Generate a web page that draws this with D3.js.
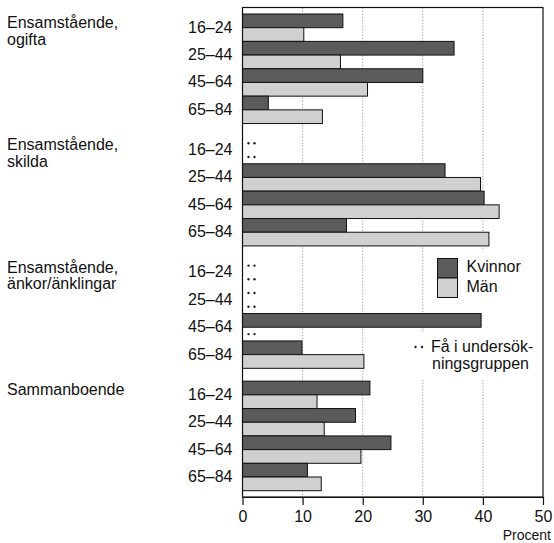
<!DOCTYPE html>
<html>
<head>
<meta charset="utf-8">
<script src="https://cdn.jsdelivr.net/npm/d3@7"></script>
<style>
  body { margin: 0; background: #fff; }
  text { font-family: "Liberation Sans", Arial, Helvetica, sans-serif; fill: #111; }
</style>
</head>
<body>
<div id="chart"></div>
<script>
var svgWidth = 554;
var svgHeight = 543;

// Data (percent)
var groups = ["ogifta", "skilda", "ankor", "sammanboende"];
var groupLabels = [
  ["Ensamstående,", "ogifta"],
  ["Ensamstående,", "skilda"],
  ["Ensamstående,", "änkor/änklingar"],
  ["Sammanboende"]
];
var ages = ["16–24", "25–44", "45–64", "65–84"];
var sexes = ["Kvinnor", "Män"];
// null = "Få i undersökningsgruppen"
var kvinnor = [
  [16.7, 35.2, 30.0, 4.3],
  [null, 33.7, 40.2, 17.3],
  [null, null, 39.7, 9.9],
  [21.2, 18.8, 24.7, 10.8]
];
var man = [
  [10.2, 16.3, 20.8, 13.3],
  [null, 39.6, 42.7, 41.0],
  [null, null, null, 20.2],
  [12.4, 13.6, 19.7, 13.1]
];
var xTicks = [0, 10, 20, 30, 40, 50];

var colors = { "Kvinnor": "#5b5b5b", "Män": "#d0d0d0" };
var fontSize = "16px";

var plot = { left: 242.5, right: 543, top: 7.5, bottom: 497 };

var svg = d3.select("#chart")
  .append("svg")
  .attr("width", svgWidth)
  .attr("height", svgHeight);

// flatten into rows
var rows = [];
groups.forEach(function(g, gi) {
  ages.forEach(function(a, ai) {
    rows.push({ group: g, age: a, sex: "Kvinnor", value: kvinnor[gi][ai] });
    rows.push({ group: g, age: a, sex: "Män", value: man[gi][ai] });
  });
});

// scales
var x = d3.scaleLinear()
  .domain([0, 50])
  .range([plot.left, plot.right]);

var yGroup = d3.scaleBand()
  .domain(groups)
  .range([14, 490.7])
  .paddingInner(0.105)
  .paddingOuter(0);

var yAge = d3.scaleBand()
  .domain(ages)
  .range([0, yGroup.bandwidth()]);

var ySex = d3.scaleBand()
  .domain(sexes)
  .range([0, yAge.bandwidth()]);

function rowY(d) {
  return yGroup(d.group) + yAge(d.age) + ySex(d.sex);
}

// gridlines
svg.append("g")
  .selectAll("line")
  .data(xTicks.slice(1, -1))
  .join("line")
  .attr("x1", d => x(d))
  .attr("x2", d => x(d))
  .attr("y1", plot.top)
  .attr("y2", plot.bottom)
  .attr("stroke", "#9a9a9a")
  .attr("stroke-width", 0.8)
  .attr("stroke-dasharray", "1.5,1.5");

// white area behind the legend hides the grid
svg.append("rect")
  .attr("x", 430).attr("y", 250)
  .attr("width", 110).attr("height", 130)
  .attr("fill", "#fff");
svg.append("rect")
  .attr("x", 405).attr("y", 332)
  .attr("width", 135).attr("height", 48)
  .attr("fill", "#fff");

// bars
svg.append("g")
  .selectAll("rect")
  .data(rows.filter(d => d.value != null))
  .join("rect")
  .attr("x", x(0))
  .attr("y", d => rowY(d))
  .attr("width", d => x(d.value) - x(0))
  .attr("height", ySex.bandwidth())
  .attr("fill", d => colors[d.sex])
  .attr("stroke", "#111")
  .attr("stroke-width", 1);

// ".." for too few in the group
var missing = rows.filter(d => d.value == null);
svg.append("g")
  .selectAll("g")
  .data(missing)
  .join("g")
  .each(function(d) {
    var cy = rowY(d) + ySex.bandwidth() / 2;
    d3.select(this).selectAll("circle")
      .data([0, 1])
      .join("circle")
      .attr("cx", i => x(0) + 6 + i * 6)
      .attr("cy", cy)
      .attr("r", 1.2)
      .attr("fill", "#222");
  });

// frame
svg.append("rect")
  .attr("x", plot.left)
  .attr("y", plot.top)
  .attr("width", plot.right - plot.left)
  .attr("height", plot.bottom - plot.top)
  .attr("fill", "none")
  .attr("stroke", "#111")
  .attr("stroke-width", 1.2);

// x axis
var bottomAxis = d3.axisBottom(x)
  .tickValues(xTicks)
  .tickSize(8)
  .tickSizeOuter(0)
  .tickPadding(6);

var axisG = svg.append("g")
  .attr("transform", `translate(0, ${plot.bottom})`)
  .call(bottomAxis);
axisG.select(".domain").attr("stroke", "#111").attr("stroke-width", 1.2);
axisG.selectAll(".tick line").attr("stroke", "#111").attr("stroke-width", 1.2);
axisG.selectAll(".tick text")
  .attr("font-size", fontSize)
  .attr("font-family", "Liberation Sans, Arial, sans-serif")
  .attr("fill", "#111");

svg.append("text")
  .attr("x", 551)
  .attr("y", 539.8)
  .attr("text-anchor", "end")
  .attr("font-size", "14px")
  .text("Procent");

// age labels
var ageRows = [];
groups.forEach(function(g) {
  ages.forEach(function(a) { ageRows.push({ group: g, age: a }); });
});
svg.append("g")
  .selectAll("text")
  .data(ageRows)
  .join("text")
  .attr("x", 232.5)
  .attr("y", d => yGroup(d.group) + yAge(d.age) + ySex.bandwidth() + 5)
  .attr("text-anchor", "end")
  .attr("font-size", fontSize)
  .text(d => d.age);

// group labels
svg.append("g")
  .selectAll("text")
  .data(groups)
  .join("text")
  .attr("x", 7)
  .attr("y", d => yGroup(d) + 14)
  .attr("font-size", fontSize)
  .each(function(d, i) {
    d3.select(this).selectAll("tspan")
      .data(groupLabels[i])
      .join("tspan")
      .attr("x", 7)
      .attr("dy", (t, j) => j === 0 ? 0 : 16.5)
      .text(t => t);
  });

// legend
var legend = svg.append("g").attr("transform", "translate(437.5, 258.5)");
legend.selectAll("rect")
  .data(sexes)
  .join("rect")
  .attr("x", 0)
  .attr("y", (d, i) => i * 19.5)
  .attr("width", 20)
  .attr("height", 19.5)
  .attr("fill", d => colors[d])
  .attr("stroke", "#111")
  .attr("stroke-width", 1);
legend.selectAll("text")
  .data(sexes)
  .join("text")
  .attr("x", 29)
  .attr("y", (d, i) => 13.5 + i * 20)
  .attr("font-size", fontSize)
  .text(d => d);

var note = svg.append("g");
note.selectAll("circle")
  .data([0, 1])
  .join("circle")
  .attr("cx", i => 415.5 + i * 6.5)
  .attr("cy", 347)
  .attr("r", 1.2)
  .attr("fill", "#222");
note.append("text")
  .attr("x", 431)
  .attr("y", 352)
  .attr("font-size", fontSize)
  .text("Få i undersök-");
note.append("text")
  .attr("x", 432)
  .attr("y", 368.5)
  .attr("font-size", fontSize)
  .text("ningsgruppen");
</script>
</body>
</html>
